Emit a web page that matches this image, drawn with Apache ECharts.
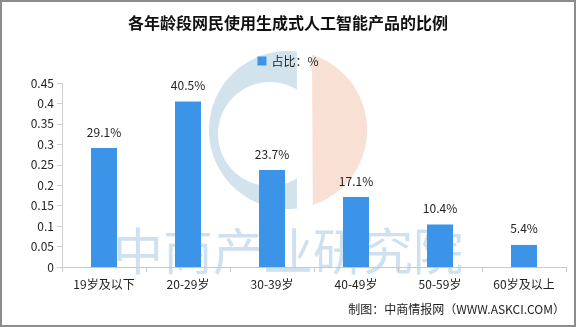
<!DOCTYPE html>
<html><head><meta charset="utf-8">
<script src="https://cdn.jsdelivr.net/npm/echarts@6/dist/echarts.min.js"></script>
<style>html,body{margin:0;padding:0;background:#fff}#c{width:576px;height:327px}</style>
</head><body><div id="c"></div>
<script>
const categories = ['19岁及以下','20-29岁','30-39岁','40-49岁','50-59岁','60岁及以上'];
const shareValues = [0.291, 0.405, 0.237, 0.171, 0.104, 0.054];
const shareLabels = ['29.1%','40.5%','23.7%','17.1%','10.4%','5.4%'];
const seriesName = '占比：%';
const titleText = '各年龄段网民使用生成式人工智能产品的比例';
const sourceText = '制图：中商情报网（WWW.ASKCI.COM）';
const watermarkText = '中商产业研究院';

const FONT = '"Noto Sans CJK SC", "DejaVu Sans", sans-serif';

const LCX = 288, LCY = 130, LR = 79;
const leftPts = (function(){
  const pts = [];
  const a0 = Math.acos((297 - LCX) / LR);
  for (let a = a0; a <= 2 * Math.PI - a0 + 1e-9; a += Math.PI / 180) {
    pts.push([LCX + LR * Math.cos(a), LCY + LR * Math.sin(a)]);
  }
  return pts;
})();
const rightPts = (function(){
  const pts = [];
  const a0 = Math.acos((312 - LCX) / LR);
  for (let a = -a0; a <= a0 + 1e-9; a += Math.PI / 180) {
    pts.push([LCX + LR * Math.cos(a), LCY + LR * Math.sin(a)]);
  }
  return pts;
})();

const chart = echarts.init(document.getElementById('c'), null, {renderer: 'canvas'});
chart.setOption({
  backgroundColor: '#fff',
  animation: false,
  textStyle: {fontFamily: FONT},
  title: {
    text: titleText, left: 'center', top: 10,
    textStyle: {fontSize: 16, fontWeight: 'bold', color: '#111', fontFamily: FONT}
  },
  legend: {
    data: [seriesName], top: 50, left: 'center',
    itemWidth: 9, itemHeight: 9, itemGap: 4, icon: 'rect',
    textStyle: {fontSize: 12, color: '#222', fontFamily: FONT}
  },
  graphic: [
    {type: 'polygon', z: -10, silent: true, shape: {points: leftPts}, style: {fill: '#d3e3ee'}},
    {type: 'circle', z: -9, silent: true, shape: {cx: 270, cy: 134, r: 52}, style: {fill: '#ffffff'}},
    {type: 'polygon', z: -8, silent: true, shape: {points: rightPts}, style: {fill: '#f8e0d5'}},
    {type: 'text', z: -7, silent: true, left: 'center', top: 226,
      style: {text: watermarkText, fontSize: 50, fontWeight: 'normal', fill: '#cfe0ee', fontFamily: FONT}},
    {type: 'text', right: 11, top: 303,
      style: {text: sourceText, fontSize: 12, fill: '#222', fontFamily: FONT}},
    {type: 'rect', silent: true, shape: {x: 1, y: 1, width: 574, height: 325},
      style: {fill: 'none', stroke: '#8c8c8c', lineWidth: 2}}
  ],
  grid: {left: 62, right: 10, top: 83, bottom: 60, containLabel: false},
  xAxis: {
    type: 'category', data: categories,
    axisLine: {lineStyle: {color: '#c8c8c8'}},
    axisTick: {show: true, length: 5, lineStyle: {color: '#c8c8c8'}},
    axisLabel: {fontSize: 12, color: '#222', margin: 11, fontFamily: FONT}
  },
  yAxis: {
    type: 'value', min: 0, max: 0.45, interval: 0.05,
    axisLine: {show: true, lineStyle: {color: '#d0d0d0'}},
    axisTick: {show: true, length: 5, lineStyle: {color: '#d0d0d0'}},
    splitLine: {show: false},
    axisLabel: {fontSize: 12, color: '#222', margin: 8, fontFamily: FONT,
      formatter: v => String(parseFloat(v.toFixed(2)))}
  },
  series: [{
    name: seriesName, type: 'bar', barWidth: 26,
    data: shareValues,
    itemStyle: {color: '#3b94e8'},
    label: {show: true, position: 'top', distance: 10, fontSize: 12, color: '#222', fontFamily: FONT,
      formatter: p => shareLabels[p.dataIndex]}
  }]
});
</script></body></html>
